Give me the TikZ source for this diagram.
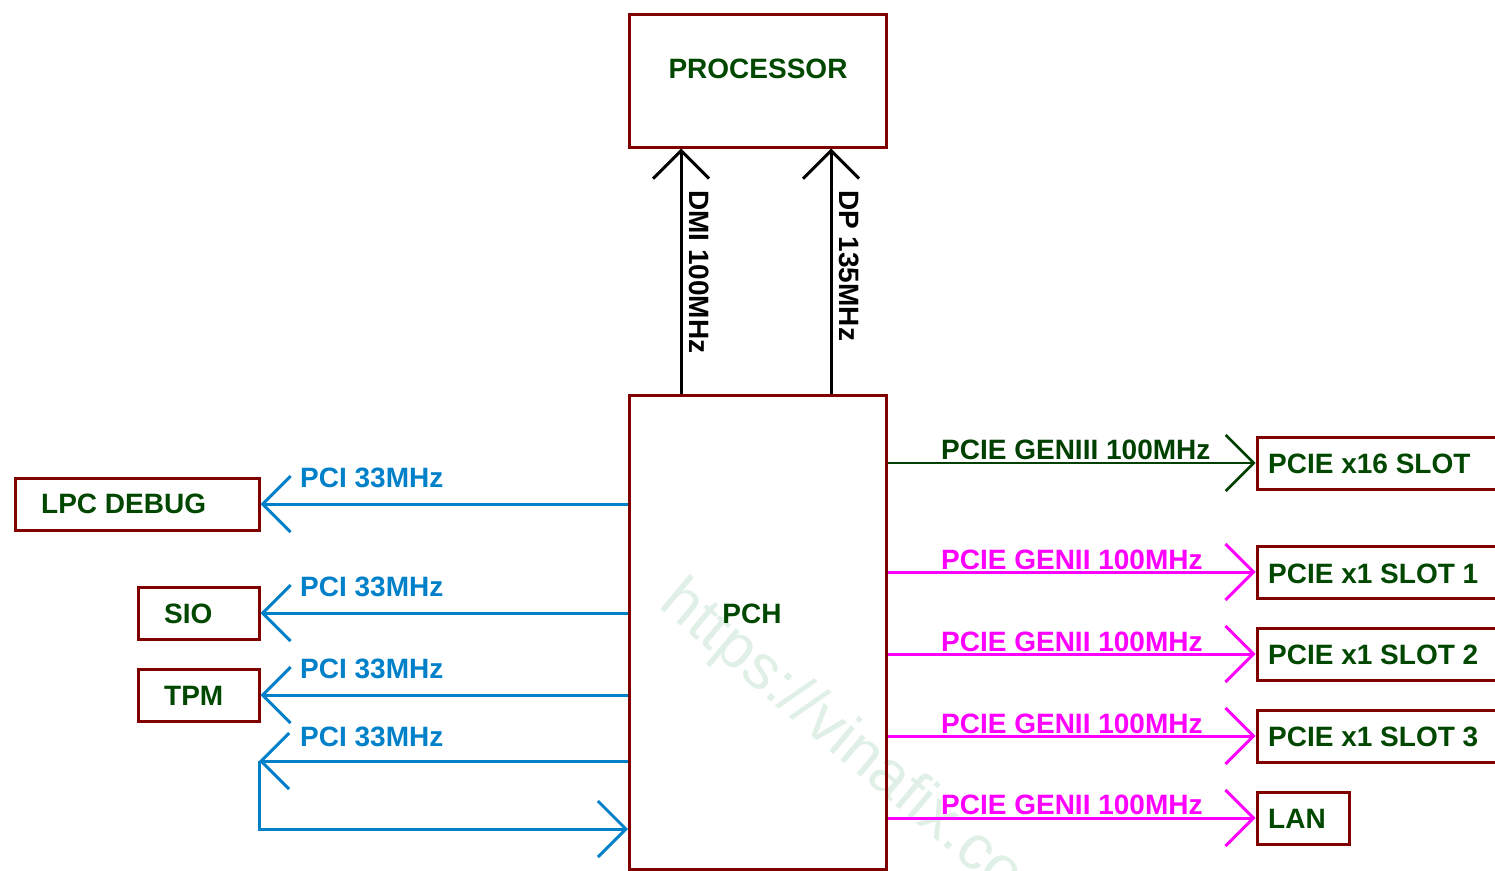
\documentclass[tikz,border=0pt]{standalone}
\usepackage{fontspec}
\setmainfont{Liberation Sans}
\usetikzlibrary{arrows.meta}
\definecolor{boxred}{RGB}{128,0,0}
\definecolor{txtgreen}{RGB}{0,72,0}
\definecolor{gen3green}{RGB}{0,64,0}
\definecolor{pciblue}{RGB}{0,128,200}
\definecolor{genmag}{RGB}{255,0,255}
\definecolor{wmark}{RGB}{224,240,230}
\begin{document}
\begin{tikzpicture}[x=1pt,y=-1pt,
  box/.style={draw=boxred, line width=3pt, inner sep=0pt, anchor=north west},
  lbl/.style={font=\bfseries\fontsize{28}{28}\selectfont, inner sep=0pt},
  vee/.style={-{Straight Barb[length=28pt,width=56pt]}},
  pcil/.style={vee, draw=pciblue, line width=3pt},
  genl/.style={vee, draw=genmag, line width=3pt},
  gen3l/.style={vee, draw=gen3green, line width=2.6pt},
  busl/.style={vee, draw=black, line width=3pt}]
\useasboundingbox (0,0) rectangle (1495,870);
\clip (0,0) rectangle (1495,870);
% watermark
\node[rotate=-40, anchor=west, font=\fontsize{63}{63}\selectfont, text=wmark, inner sep=0pt] (wm) at (668,594) {https://vinafix.com};
% boxes
\node[box, minimum width=257pt, minimum height=133pt] (proc) at (628,12.5) {};
\node[box, minimum width=257pt, minimum height=474pt] (pch) at (628,394) {};
\node[box, minimum width=244pt, minimum height=52pt] (lpc) at (13.5,476.5) {};
\node[box, minimum width=121pt, minimum height=52pt] (sio) at (136.5,585.5) {};
\node[box, minimum width=121pt, minimum height=52pt] (tpm) at (136.5,667.5) {};
\node[box, minimum width=260pt, minimum height=52pt] (x16) at (1255.5,435.5) {};
\node[box, minimum width=260pt, minimum height=52pt] (s1) at (1255.5,544.5) {};
\node[box, minimum width=260pt, minimum height=52pt] (s2) at (1255.5,626.5) {};
\node[box, minimum width=260pt, minimum height=52pt] (s3) at (1255.5,708.5) {};
\node[box, minimum width=92pt, minimum height=52pt] (lan) at (1255.5,790.5) {};
% box texts
\node[lbl, text=txtgreen] (proct) at (758,69) {PROCESSOR};
\node[lbl, text=txtgreen] (pcht) at (752,614) {PCH};
\node[lbl, text=txtgreen, anchor=west] (lpct) at (41,504) {LPC DEBUG};
\node[lbl, text=txtgreen, anchor=west] (siot) at (164,614) {SIO};
\node[lbl, text=txtgreen, anchor=west] (tpmt) at (164,696) {TPM};
\node[lbl, text=txtgreen, anchor=west] (x16t) at (1268,464) {PCIE x16 SLOT};
\node[lbl, text=txtgreen, anchor=west] (s1t) at (1268,574) {PCIE x1 SLOT 1};
\node[lbl, text=txtgreen, anchor=west] (s2t) at (1268,655) {PCIE x1 SLOT 2};
\node[lbl, text=txtgreen, anchor=west] (s3t) at (1268,737) {PCIE x1 SLOT 3};
\node[lbl, text=txtgreen, anchor=west] (lant) at (1268,819) {LAN};
% processor buses
\coordinate (dmix) at (681,0);
\coordinate (dpx) at (831,0);
\draw[busl] (pch.north -| dmix) -- (proc.south -| dmix);
\draw[busl] (pch.north -| dpx) -- (proc.south -| dpx);
\node[lbl, rotate=-90, anchor=west] (dmit) at (699,190) {DMI 100MHz};
\node[lbl, rotate=-90, anchor=west] (dpt) at (849,190) {DP 135MHz};
% PCI buses
\draw[pcil] (pch.west |- lpc.east) -- (lpc.east);
\draw[pcil] (pch.west |- sio.east) -- (sio.east);
\draw[pcil] (pch.west |- tpm.east) -- (tpm.east);
\coordinate (lp) at (259,761);
\coordinate (lp2) at (259,829);
\draw[pcil] (pch.west |- lp) -- (lp);
\draw[pcil] (lp) -- (lp2) -- (pch.west |- lp2);
\node[lbl, text=pciblue, anchor=west] (p1) at (300,478) {PCI 33MHz};
\node[lbl, text=pciblue, anchor=west] (p2) at (300,587) {PCI 33MHz};
\node[lbl, text=pciblue, anchor=west] (p3) at (300,669) {PCI 33MHz};
\node[lbl, text=pciblue, anchor=west] (p4) at (300,737) {PCI 33MHz};
% PCIE buses
\draw[gen3l] (pch.east |- x16.west) -- (x16.west);
\draw[genl] (pch.east |- s1.west) -- (s1.west);
\draw[genl] (pch.east |- s2.west) -- (s2.west);
\draw[genl] (pch.east |- s3.west) -- (s3.west);
\draw[genl] (pch.east |- lan.west) -- (lan.west);
\node[lbl, text=gen3green, anchor=west] (g3) at (941,450) {PCIE GENIII 100MHz};
\node[lbl, text=genmag, anchor=west] (g21) at (941,560) {PCIE GENII 100MHz};
\node[lbl, text=genmag, anchor=west] (g22) at (941,642) {PCIE GENII 100MHz};
\node[lbl, text=genmag, anchor=west] (g23) at (941,724) {PCIE GENII 100MHz};
\node[lbl, text=genmag, anchor=west] (g24) at (941,805) {PCIE GENII 100MHz};
\end{tikzpicture}
\end{document}
